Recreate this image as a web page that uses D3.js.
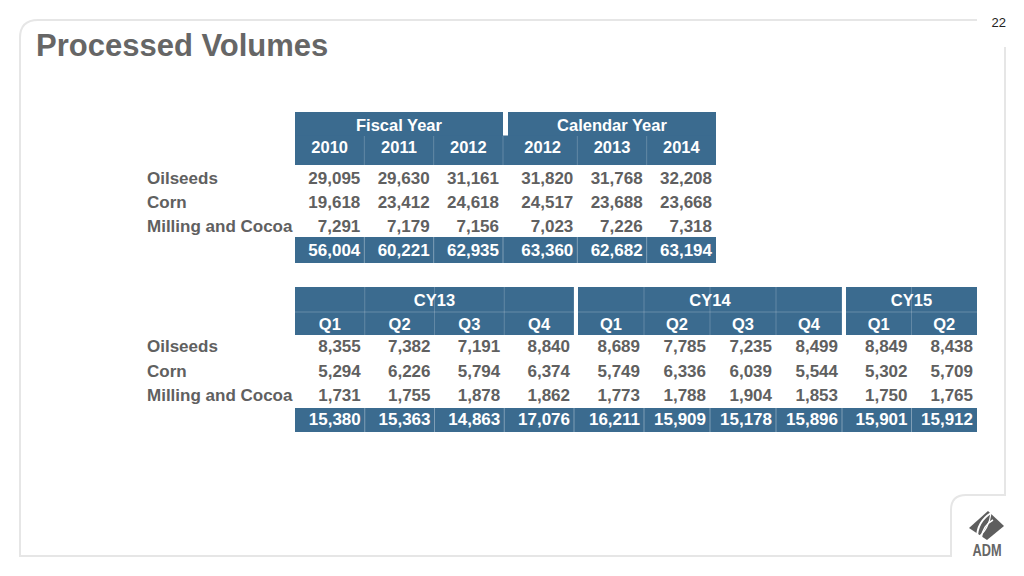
<!DOCTYPE html>
<html><head><meta charset="utf-8">
<script src="https://cdn.jsdelivr.net/npm/d3@7"></script>
<style>body{margin:0;background:#fff}svg{display:block}text{font-family:"Liberation Sans",Arial,Helvetica,sans-serif}</style>
</head><body>
<script>
// ---------- data ----------
const title = "Processed Volumes";
const pageNumber = "22";
const segments = ["Oilseeds", "Corn", "Milling and Cocoa"];

const annualGroups = ["Fiscal Year", "Calendar Year"];
const annualLabels = ["2010", "2011", "2012", "2012", "2013", "2014"];
const annualGroupOf = [0, 0, 0, 1, 1, 1];
const oilseedsAnnual = [29095, 29630, 31161, 31820, 31768, 32208];
const cornAnnual = [19618, 23412, 24618, 24517, 23688, 23668];
const millingAnnual = [7291, 7179, 7156, 7023, 7226, 7318];
const totalAnnual = [56004, 60221, 62935, 63360, 62682, 63194];

const quarterGroups = ["CY13", "CY14", "CY15"];
const quarterLabels = ["Q1", "Q2", "Q3", "Q4", "Q1", "Q2", "Q3", "Q4", "Q1", "Q2"];
const quarterGroupOf = [0, 0, 0, 0, 1, 1, 1, 1, 2, 2];
const oilseedsQuarter = [8355, 7382, 7191, 8840, 8689, 7785, 7235, 8499, 8849, 8438];
const cornQuarter = [5294, 6226, 5794, 6374, 5749, 6336, 6039, 5544, 5302, 5709];
const millingQuarter = [1731, 1755, 1878, 1862, 1773, 1788, 1904, 1853, 1750, 1765];
const totalQuarter = [15380, 15363, 14863, 17076, 16211, 15909, 15178, 15896, 15901, 15912];

// ---------- style ----------
const W = 1024, H = 576;
const BLUE = "#3b6b8f";
const GRAY = "#606060";
const fmt = d3.format(",");
const FS = 17;

const svg = d3.select("body").append("svg").attr("width", W).attr("height", H);

// frame
const frame = d3.path();
frame.moveTo(977, 20); frame.lineTo(38, 20);
frame.quadraticCurveTo(20, 20, 20, 38);
frame.lineTo(20, 556); frame.lineTo(951, 556);
frame.lineTo(951, 510); frame.quadraticCurveTo(951, 495, 966, 495);
frame.lineTo(1005, 495); frame.lineTo(1005, 47);
svg.append("path").attr("d", frame.toString()).attr("fill", "none")
  .attr("stroke", "#e6e6e6").attr("stroke-width", 2);

svg.append("text").attr("x", 36).attr("y", 56).text(title)
  .attr("font-size", 31).attr("font-weight", "bold").attr("fill", "#666");
svg.append("text").attr("x", 1006).attr("y", 27).text(pageNumber)
  .attr("font-size", 13).attr("text-anchor", "end").attr("fill", "#222");

// logo
const logo = svg.append("g").attr("transform", "translate(986,525)");
logo.append("path").attr("d", "M2,-14 L18,1 L1,15 L-17,3 Z").attr("fill", "#5e5e5e");
logo.append("path").attr("d", "M-9,13 C-9,1 -3,-7 5,-12").attr("stroke", "#fff").attr("stroke-width", 2).attr("fill", "none");
logo.append("path").attr("d", "M-5,14 C-4,5 1,-2 7,-5").attr("stroke", "#fff").attr("stroke-width", 1.6).attr("fill", "none");
logo.append("path").attr("d", "M-9,13 C-1,8 4,-2 5,-12").attr("stroke", "#fff").attr("stroke-width", 1.2).attr("fill", "none");
svg.append("text").attr("x", 987).attr("y", 556).text("ADM").attr("text-anchor", "middle")
  .attr("font-size", 16).attr("font-weight", "bold").attr("fill", "#666")
  .attr("textLength", 29).attr("lengthAdjust", "spacingAndGlyphs");

// ---------- generic table drawer ----------
function drawTable(cfg) {
  const g = svg.append("g");
  const n = cfg.labels.length;
  const colX = [], colW = [];
  cfg.groupRanges.forEach((r, gi) => {
    const idx = d3.range(n).filter(i => cfg.groupOf[i] === gi);
    const sc = d3.scaleBand().domain(idx).range(r).paddingInner(0).paddingOuter(0);
    idx.forEach(i => { colX[i] = sc(i); colW[i] = sc.bandwidth(); });
  });
  const left = d3.min(cfg.groupRanges, r => r[0]);
  const right = d3.max(cfg.groupRanges, r => r[1]);
  const y = cfg.y;

  cfg.groupRanges.forEach((r, gi) => {
    g.append("rect").attr("x", r[0]).attr("y", y.headTop).attr("width", r[1] - r[0])
      .attr("height", (cfg.joinSubHeader ? y.headMid : y.headBottom) - y.headTop).attr("fill", BLUE);
    g.append("text").attr("x", (r[0] + r[1]) / 2).attr("y", y.groupBase).text(cfg.groups[gi])
      .attr("text-anchor", "middle").attr("font-size", 16.5).attr("font-weight", "bold").attr("fill", "#fff");
  });
  if (cfg.joinSubHeader) {
    g.append("rect").attr("x", left).attr("y", y.headMid - 0.5).attr("width", right - left)
      .attr("height", y.headBottom - y.headMid + 0.5).attr("fill", BLUE);
  } else {
    g.append("line").attr("x1", left).attr("x2", right).attr("y1", y.headMid).attr("y2", y.headMid)
      .attr("stroke", "rgba(255,255,255,0.22)");
  }
  d3.range(n).forEach(i => {
    const x = colX[i] + colW[i];
    if (x < right - 1) {
      g.append("line").attr("x1", x).attr("x2", x).attr("y1", cfg.joinSubHeader ? y.headMid : y.headTop)
        .attr("y2", y.headBottom).attr("stroke", "rgba(255,255,255,0.2)");
    }
  });
  cfg.labels.forEach((l, i) => {
    g.append("text").attr("x", colX[i] + colW[i] / 2).attr("y", y.subBase).text(l)
      .attr("text-anchor", "middle").attr("font-size", 16.5).attr("font-weight", "bold").attr("fill", "#fff");
  });
  cfg.rows.forEach((vals, ri) => {
    g.append("text").attr("x", 147).attr("y", y.rowBase[ri]).text(segments[ri])
      .attr("font-size", FS).attr("font-weight", "bold").attr("fill", GRAY);
    vals.forEach((v, i) => {
      g.append("text").attr("x", colX[i] + colW[i] - 4).attr("y", y.rowBase[ri]).text(fmt(v))
        .attr("text-anchor", "end").attr("font-size", FS).attr("font-weight", "bold").attr("fill", GRAY);
    });
  });
  g.append("rect").attr("x", left).attr("y", y.totTop).attr("width", right - left)
    .attr("height", y.totBottom - y.totTop).attr("fill", BLUE);
  d3.range(n).forEach(i => {
    const x = colX[i] + colW[i];
    if (x < right - 1) {
      g.append("line").attr("x1", x).attr("x2", x).attr("y1", y.totTop).attr("y2", y.totBottom)
        .attr("stroke", "rgba(255,255,255,0.35)");
    }
  });
  cfg.totals.forEach((v, i) => {
    g.append("text").attr("x", colX[i] + colW[i] - 4).attr("y", y.totBase).text(fmt(v))
      .attr("text-anchor", "end").attr("font-size", FS).attr("font-weight", "bold").attr("fill", "#fff");
  });
}

drawTable({
  groups: annualGroups, labels: annualLabels, groupOf: annualGroupOf,
  groupRanges: [[295, 503], [508, 716]], joinSubHeader: true,
  rows: [oilseedsAnnual, cornAnnual, millingAnnual], totals: totalAnnual,
  y: { headTop: 112, headMid: 136, headBottom: 165, groupBase: 131, subBase: 153,
       rowBase: [184, 208, 232], totTop: 237, totBottom: 263, totBase: 256 }
});

drawTable({
  groups: quarterGroups, labels: quarterLabels, groupOf: quarterGroupOf,
  groupRanges: [[295, 574], [578, 842], [846, 977]], joinSubHeader: false,
  rows: [oilseedsQuarter, cornQuarter, millingQuarter], totals: totalQuarter,
  y: { headTop: 287, headMid: 312, headBottom: 335, groupBase: 306, subBase: 330,
       rowBase: [352, 377, 401], totTop: 408, totBottom: 432, totBase: 425 }
});
</script>
</body></html>
